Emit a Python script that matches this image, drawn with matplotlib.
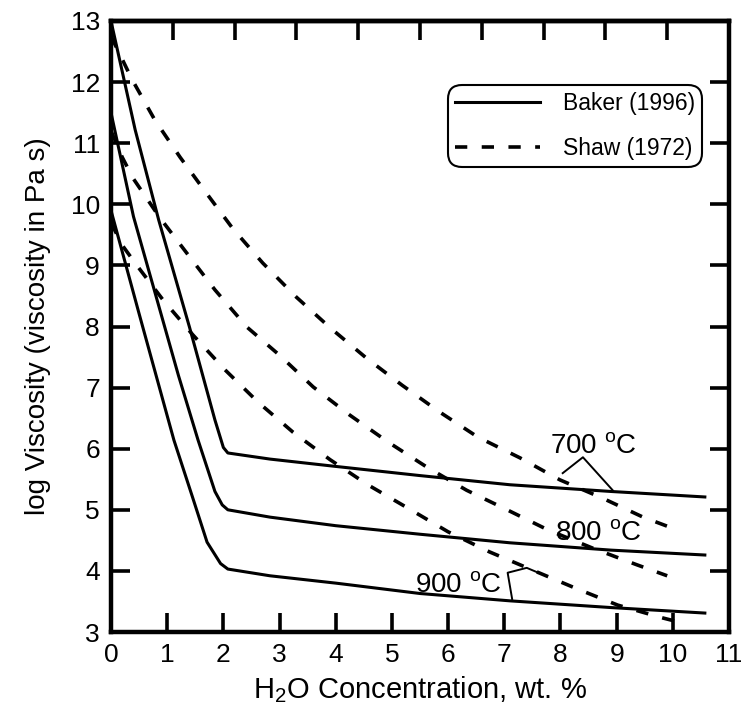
import numpy as np
import matplotlib
matplotlib.use("Agg")
import matplotlib.pyplot as plt

plt.rcParams['font.family'] = ['Liberation Sans', 'DejaVu Sans']
plt.rcParams['mathtext.fontset'] = 'custom'
plt.rcParams['mathtext.rm'] = 'Liberation Sans'
plt.rcParams['mathtext.default'] = 'regular'

# Baker (1996) - solid
baker_700_x = [0, 0.43, 0.85, 1.4, 1.85, 2.0, 2.08, 2.83, 4.0, 5.5, 7.1, 8.9, 10.57]
baker_700_y = [13.0, 11.22, 9.74, 7.98, 6.47, 6.02, 5.93, 5.83, 5.71, 5.56, 5.41, 5.3, 5.21]
baker_800_x = [0, 0.4, 0.8, 1.2, 1.55, 1.85, 1.98, 2.08, 2.83, 4.0, 5.5, 7.1, 8.9, 10.57]
baker_800_y = [11.5, 9.8, 8.5, 7.2, 6.14, 5.3, 5.08, 5.0, 4.88, 4.74, 4.6, 4.46, 4.34, 4.26]
baker_900_x = [0, 0.5, 1.0, 1.12, 1.45, 1.71, 1.95, 2.08, 2.83, 4.0, 5.5, 7.1, 8.9, 10.57]
baker_900_y = [9.9, 8.21, 6.54, 6.14, 5.21, 4.47, 4.12, 4.03, 3.92, 3.8, 3.63, 3.51, 3.4, 3.31]

# Shaw (1972) - dashed
shaw_700_x = [0, 0.16, 0.37, 0.78, 1.23, 1.7, 2.17, 2.7, 3.3, 3.9, 4.55, 5.18, 5.85,
              6.53, 7.28, 7.99, 8.75, 9.47, 10.05]
shaw_700_y = [12.75, 12.45, 12.05, 11.38, 10.77, 10.18, 9.6, 9.04, 8.48, 7.98, 7.48, 7.04, 6.6,
              6.19, 5.85, 5.49, 5.19, 4.88, 4.68]
shaw_800_x = [0, 0.2, 0.39, 0.87, 1.35, 1.85, 2.42, 3.0, 3.6, 4.25, 4.93, 5.62, 6.33,
              7.05, 7.78, 8.58, 9.36, 9.9]
shaw_800_y = [11.2, 10.77, 10.43, 9.78, 9.2, 8.6, 7.99, 7.53, 7.01, 6.55, 6.11, 5.7, 5.32,
              5.0, 4.67, 4.37, 4.1, 3.92]
shaw_900_x = [0, 0.2, 0.46, 0.93, 1.46, 2.03, 2.62, 3.24, 3.9, 4.57, 5.28, 6.0, 6.74,
              7.46, 8.26, 9.02, 9.82, 10.12]
shaw_900_y = [9.7, 9.33, 9.0, 8.43, 7.86, 7.29, 6.76, 6.27, 5.82, 5.41, 5.03, 4.64, 4.31,
              4.03, 3.72, 3.44, 3.23, 3.16]

# temperature labels and leaders
labels = ["700 $^{o}$C", "800 $^{o}$C", "900 $^{o}$C"]
label_xy = [(7.81, 5.93), (7.9, 4.5), (5.41, 3.65)]
leader_700_x = [8.04, 8.4, 8.93]
leader_700_y = [5.6, 5.86, 5.32]
leader_900_x = [7.14, 7.06, 7.4, 7.58]
leader_900_y = [3.54, 3.97, 4.05, 3.98]

fig = plt.figure(figsize=(7.42, 7.18), dpi=100)
ax = fig.add_axes([111/742, 1-632/718, 618/742, 611/718])

lw = 2.2
ax.plot(baker_700_x, baker_700_y, 'k-', lw=lw, label='Baker (1996)', solid_joinstyle='round')
ax.plot(baker_800_x, baker_800_y, 'k-', lw=lw, solid_joinstyle='round')
ax.plot(baker_900_x, baker_900_y, 'k-', lw=lw, solid_joinstyle='round')
dash = (3.4, 4.0)
ax.plot(shaw_700_x, shaw_700_y, 'k--', lw=2.6, dashes=dash, label='Shaw (1972)')
ax.plot(shaw_800_x, shaw_800_y, 'k--', lw=2.6, dashes=dash)
ax.plot(shaw_900_x, shaw_900_y, 'k--', lw=2.6, dashes=dash)

ax.plot(leader_700_x, leader_700_y, 'k-', lw=1.4)
ax.plot(leader_900_x, leader_900_y, 'k-', lw=1.4)
for t, (tx, ty) in zip(labels, label_xy):
    ax.text(tx, ty, t, fontsize=20, ha='left', va='baseline')

ax.set_xlim(0, 11)
ax.set_ylim(3, 13)
ax.set_xticks(range(0, 12))
ax.set_yticks(range(3, 14))
ax.tick_params(direction='in', length=14, width=2.6, labelsize=19, pad=8)
ax.tick_params(axis='y', right=True)

# top axis has 10 equal divisions
top = ax.secondary_xaxis('top')
top.set_xticks(np.arange(1, 10) * 1.1)
top.tick_params(direction='in', length=14, width=2.6, labeltop=False)
top.spines['top'].set_linewidth(3.2)

for s in ax.spines.values():
    s.set_linewidth(3.2)

ax.set_xlabel("H$_2$O Concentration, wt. %", fontsize=21, labelpad=5)
ax.set_ylabel("log Viscosity (viscosity in Pa s)", fontsize=20, labelpad=14)

leg = ax.legend(loc='upper right', bbox_to_anchor=(0.956, 0.895), borderaxespad=0,
                fontsize=16.5, handlelength=3.7, handletextpad=1.0, labelspacing=0.95,
                fancybox=True, framealpha=1, edgecolor='black', borderpad=0.3)
leg.get_frame().set_linewidth(1.5)
leg.get_frame().set_boxstyle('round,pad=0,rounding_size=0.6')

plt.savefig('out.png', dpi=100)
